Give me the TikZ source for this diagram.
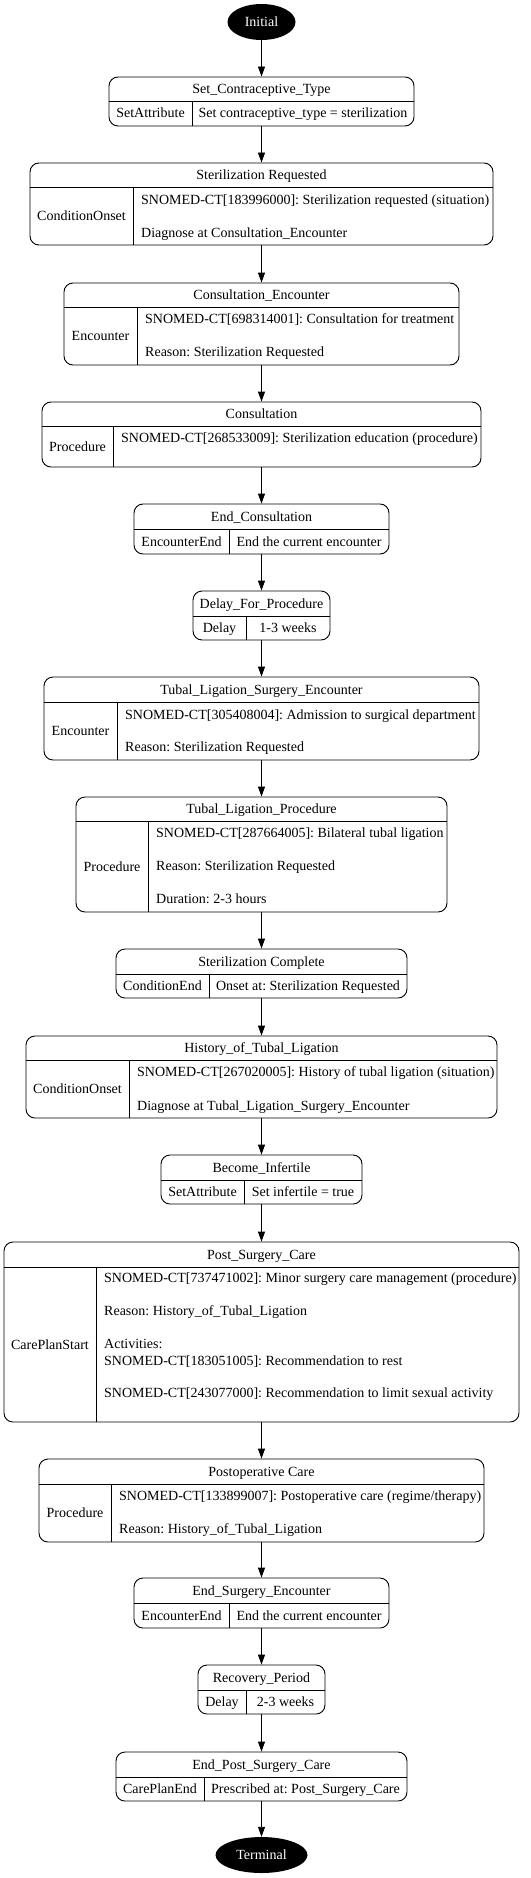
\documentclass[tikz,border=0pt]{standalone}
\usepackage{fontspec}
\setmainfont{Liberation Serif}
\frenchspacing
\usetikzlibrary{arrows.meta,shapes.geometric}
\newcommand\stbox[9]{%
  \node[sbox, minimum width={#4-#2}, minimum height={#5-#3}] (#1) at ({(#2+#4)/2},{(#3+#5)/2}) {};
  \draw[divl] (#2,#6) -- (#4,#6);
  \draw[divl] (#7,#6) -- (#7,#5);
  \node[txt] (#1-t) at ({(#2+#4)/2},{(#3+#6)/2}) {#8};
  \node[txt] (#1-l) at ({(#2+#7)/2},{(#6+#5)/2}) {#9};
}
\begin{document}
\begin{tikzpicture}[x=1pt,y=-1pt,
  sbox/.style={draw, rectangle, rounded corners=9pt, line width=0.9pt, inner sep=0pt},
  divl/.style={line width=0.9pt},
  txt/.style={inner sep=0pt, text height=9.5pt, text depth=0.5pt, font=\fontsize{14}{16.5}\selectfont},
  ctxt/.style={txt, anchor=west},
  arr/.style={-{Triangle[length=10pt,width=7pt]}, line width=0.9pt},
  term/.style={ellipse, fill=black, text=white, inner sep=0pt, minimum height=36pt, font=\fontsize{14}{16.5}\selectfont}]
\path[fill=white] (0,0) rectangle (530,1878);
\useasboundingbox (0,0) rectangle (530,1878);

\node[term, minimum width=68pt] (init) at (261.5,22) {Initial};

\stbox{set}{109}{77}{414}{126}{101}{192}{Set\_Contraceptive\_Type}{SetAttribute}
\node[txt] (set-c) at (303,113.5) {Set contraceptive\_type = sterilization};

\stbox{sreq}{30}{163}{493}{245}{187}{133}{Sterilization Requested}{ConditionOnset}
\node[ctxt] (sreq-c1) at (141,200) {SNOMED-CT[183996000]: Sterilization requested (situation)};
\node[ctxt] (sreq-c2) at (141,233) {Diagnose at Consultation\_Encounter};

\stbox{cenc}{64}{283}{459}{365}{307}{137}{Consultation\_Encounter}{Encounter}
\node[ctxt] (cenc-c1) at (145,319) {SNOMED-CT[698314001]: Consultation for treatment};
\node[ctxt] (cenc-c2) at (145,352) {Reason: Sterilization Requested};

\stbox{cons}{42}{402}{481}{467}{426}{113}{Consultation}{Procedure}
\node[ctxt] (cons-c1) at (121,438) {SNOMED-CT[268533009]: Sterilization education (procedure)};

\stbox{endc}{134}{504}{389}{554}{529}{229}{End\_Consultation}{EncounterEnd}
\node[txt] (endc-c) at (309,541.5) {End the current encounter};

\stbox{delay}{193}{591}{330}{640}{616}{246}{Delay\_For\_Procedure}{Delay}
\node[txt] (delay-c) at (288,628) {1-3 weeks};

\stbox{tlse}{44}{677}{479}{760}{702}{117}{Tubal\_Ligation\_Surgery\_Encounter}{Encounter}
\node[ctxt] (tlse-c1) at (125,715) {SNOMED-CT[305408004]: Admission to surgical department};
\node[ctxt] (tlse-c2) at (125,747) {Reason: Sterilization Requested};

\stbox{tlp}{76}{797}{447}{912}{821}{148}{Tubal\_Ligation\_Procedure}{Procedure}
\node[ctxt] (tlp-c1) at (156,833) {SNOMED-CT[287664005]: Bilateral tubal ligation};
\node[ctxt] (tlp-c2) at (156,866) {Reason: Sterilization Requested};
\node[ctxt] (tlp-c3) at (156,899) {Duration: 2-3 hours};

\stbox{scomp}{116}{949}{407}{998}{974}{209}{Sterilization Complete}{ConditionEnd}
\node[txt] (scomp-c) at (308,986) {Onset at: Sterilization Requested};

\stbox{htl}{26}{1036}{497}{1118}{1060}{129}{History\_of\_Tubal\_Ligation}{ConditionOnset}
\node[ctxt] (htl-c1) at (137,1072) {SNOMED-CT[267020005]: History of tubal ligation (situation)};
\node[ctxt] (htl-c2) at (137,1106) {Diagnose at Tubal\_Ligation\_Surgery\_Encounter};

\stbox{inf}{161}{1155}{362}{1204}{1180}{244}{Become\_Infertile}{SetAttribute}
\node[txt] (inf-c) at (303,1192) {Set infertile = true};

\stbox{psc}{4}{1242}{519}{1422}{1267}{96}{Post\_Surgery\_Care}{CarePlanStart}
\node[ctxt] (psc-c1) at (104,1278) {SNOMED-CT[737471002]: Minor surgery care management (procedure)};
\node[ctxt] (psc-c2) at (104,1311) {Reason: History\_of\_Tubal\_Ligation};
\node[ctxt] (psc-c3) at (104,1344) {Activities:};
\node[ctxt] (psc-c4) at (104,1361) {SNOMED-CT[183051005]: Recommendation to rest};
\node[ctxt] (psc-c5) at (104,1393) {SNOMED-CT[243077000]: Recommendation to limit sexual activity};

\stbox{poc}{39}{1459}{484}{1542}{1484}{111}{Postoperative Care}{Procedure}
\node[ctxt] (poc-c1) at (119,1496) {SNOMED-CT[133899007]: Postoperative care (regime/therapy)};
\node[ctxt] (poc-c2) at (119,1529) {Reason: History\_of\_Tubal\_Ligation};

\stbox{ese}{134}{1578}{389}{1628}{1603}{229}{End\_Surgery\_Encounter}{EncounterEnd}
\node[txt] (ese-c) at (309,1615.5) {End the current encounter};

\stbox{rec}{198}{1665}{325}{1714}{1690}{246}{Recovery\_Period}{Delay}
\node[txt] (rec-c) at (285.5,1702) {2-3 weeks};

\stbox{epsc}{116}{1752}{407}{1801}{1777}{204}{End\_Post\_Surgery\_Care}{CarePlanEnd}
\node[txt] (epsc-c) at (305.5,1789) {Prescribed at: Post\_Surgery\_Care};

\node[term, minimum width=92pt] (term) at (261.5,1855) {Terminal};

\draw[arr] (init.south) -- (set.north);
\draw[arr] (set.south) -- (sreq.north);
\draw[arr] (sreq.south) -- (cenc.north);
\draw[arr] (cenc.south) -- (cons.north);
\draw[arr] (cons.south) -- (endc.north);
\draw[arr] (endc.south) -- (delay.north);
\draw[arr] (delay.south) -- (tlse.north);
\draw[arr] (tlse.south) -- (tlp.north);
\draw[arr] (tlp.south) -- (scomp.north);
\draw[arr] (scomp.south) -- (htl.north);
\draw[arr] (htl.south) -- (inf.north);
\draw[arr] (inf.south) -- (psc.north);
\draw[arr] (psc.south) -- (poc.north);
\draw[arr] (poc.south) -- (ese.north);
\draw[arr] (ese.south) -- (rec.north);
\draw[arr] (rec.south) -- (epsc.north);
\draw[arr] (epsc.south) -- (term.north);
\end{tikzpicture}
\end{document}
